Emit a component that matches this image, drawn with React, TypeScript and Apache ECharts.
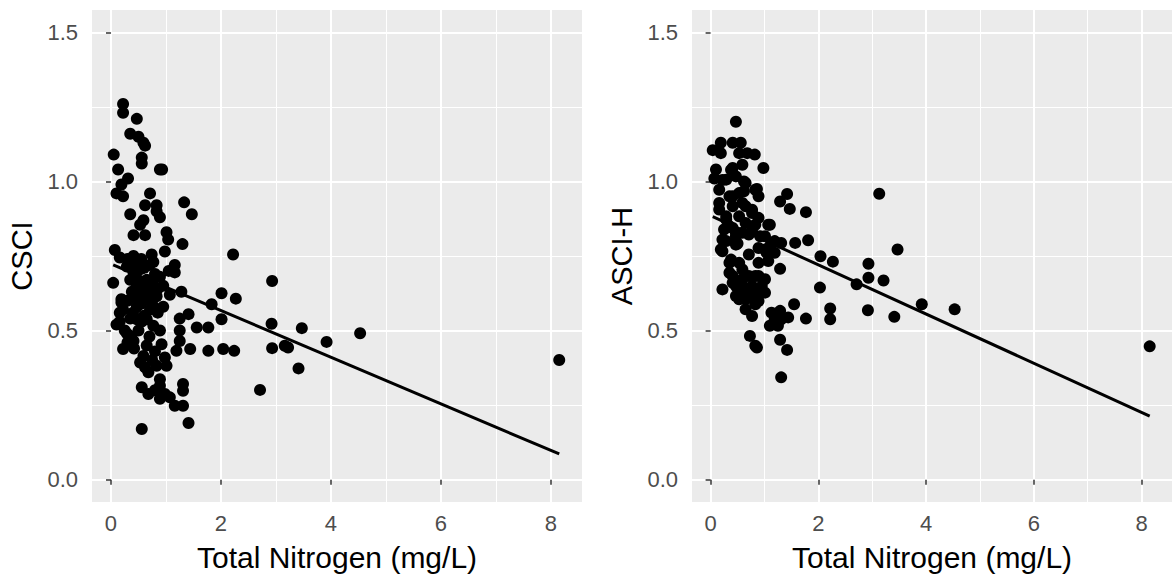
import React, { useEffect, useRef } from "react";
import * as echarts from "echarts";

// ---- data ----
const csciPoints: [number, number][] = [
  [0.22,1.26],[0.22,1.23],[0.47,1.21],[0.35,1.16],[0.50,1.15],[0.59,1.13],[0.62,1.12],[0.56,1.08],[0.56,1.06],[0.05,1.09],
  [0.13,1.04],[0.89,1.04],[0.93,1.04],[0.31,1.01],[0.19,0.99],[0.10,0.96],[0.22,0.95],[0.71,0.96],[0.62,0.92],[0.83,0.92],
  [0.83,0.90],[0.89,0.88],[0.35,0.89],[0.59,0.87],[0.53,0.855],[1.33,0.93],[1.47,0.89],[0.41,0.82],[0.62,0.82],[1.01,0.83],
  [1.04,0.805],[1.30,0.79],[0.07,0.77],[0.16,0.745],[0.41,0.75],[0.74,0.755],[0.98,0.765],[0.77,0.73],[1.16,0.72],[1.16,0.695],
  [2.22,0.755],[0.04,0.66],[0.29,0.715],[0.41,0.695],[0.53,0.705],[0.65,0.67],[0.47,0.65],[0.35,0.67],[0.59,0.64],[0.89,0.68],
  [0.95,0.65],[1.28,0.63],[1.07,0.62],[0.19,0.605],[0.22,0.57],[0.41,0.615],[0.47,0.58],[0.65,0.605],[0.71,0.57],[0.83,0.615],
  [0.16,0.53],[0.35,0.54],[0.56,0.53],[1.25,0.54],[1.41,0.555],[2.01,0.625],[2.27,0.607],[1.83,0.588],[2.01,0.538],[1.56,0.51],
  [1.77,0.51],[1.25,0.50],[0.89,0.50],[1.25,0.465],[1.44,0.438],[1.19,0.432],[1.77,0.432],[2.04,0.438],[2.24,0.432],[0.22,0.438],
  [0.19,0.594],[0.16,0.56],[0.10,0.52],[0.29,0.49],[0.41,0.465],[0.59,0.415],[0.53,0.393],[0.83,0.382],[0.98,0.41],[1.01,0.382],
  [0.62,0.377],[0.89,0.337],[0.56,0.31],[0.68,0.287],[0.89,0.315],[0.98,0.287],[0.89,0.271],[1.07,0.276],[1.16,0.248],[1.31,0.248],
  [1.31,0.321],[1.31,0.298],[1.41,0.19],[0.56,0.17],[0.71,0.605],[0.65,0.538],[0.77,0.516],[0.47,0.538],[0.35,0.482],[0.92,0.454],
  [0.30,0.74],[0.45,0.73],[0.55,0.74],[0.60,0.71],[0.70,0.72],[0.45,0.68],[0.55,0.66],[0.75,0.66],[0.80,0.69],[0.38,0.63],
  [0.50,0.62],[0.62,0.63],[0.72,0.64],[0.85,0.64],[0.30,0.60],[0.55,0.59],[0.78,0.58],[0.40,0.56],[0.60,0.55],[0.85,0.56],
  [0.25,0.50],[0.50,0.50],[0.70,0.48],[0.42,0.44],[0.65,0.45],[0.80,0.43],[0.30,0.46],[0.75,0.40],[0.68,0.36],[0.80,0.30],
  [1.05,0.70],[0.95,0.58],
  [2.93,0.666],[2.92,0.523],[3.47,0.508],[4.53,0.491],[3.92,0.462],[2.93,0.441],[3.16,0.449],[3.22,0.443],[3.41,0.373],[2.71,0.301],
  [8.15,0.401],
];

const asciPoints: [number, number][] = [
  [0.47,1.20],[0.19,1.13],[0.04,1.105],[0.19,1.095],[0.41,1.13],[0.56,1.13],[0.53,1.095],[0.68,1.095],[0.82,1.09],[0.59,1.056],
  [0.41,1.045],[0.98,1.045],[0.10,1.04],[0.07,1.01],[0.22,1.005],[0.62,1.00],[0.47,1.017],[0.16,0.972],[0.86,0.975],[0.89,0.95],
  [0.41,0.95],[0.62,0.967],[0.16,0.928],[0.41,0.917],[0.59,0.928],[0.77,0.905],[1.42,0.958],[1.29,0.933],[1.47,0.908],[1.77,0.897],
  [1.10,0.855],[0.29,0.883],[0.53,0.883],[0.65,0.861],[0.83,0.855],[0.35,0.85],[0.47,0.828],[0.71,0.822],[0.92,0.816],[1.19,0.80],
  [1.31,0.794],[1.57,0.794],[1.81,0.803],[0.50,0.792],[0.29,0.80],[0.22,0.766],[1.10,0.783],[1.04,0.761],[2.04,0.749],[2.27,0.731],
  [1.29,0.707],[0.71,0.755],[0.35,0.727],[0.59,0.705],[0.89,0.727],[0.83,0.683],[0.22,0.638],[0.47,0.649],[0.65,0.632],[0.92,0.638],
  [0.77,0.649],[2.03,0.644],[0.38,1.039],[0.29,1.006],[0.65,0.995],[0.83,0.972],[0.35,0.95],[0.53,0.961],[0.16,0.906],[0.65,0.917],
  [0.77,0.894],[0.29,0.872],[0.89,0.878],[1.07,0.855],[0.25,0.839],[0.41,0.844],[0.59,0.828],[0.77,0.839],[0.22,0.805],[0.47,0.816],
  [1.01,0.816],[0.19,0.772],[0.47,0.788],[0.89,0.777],[1.01,0.772],[1.19,0.761],[0.38,0.738],[0.53,0.727],[1.07,0.733],[0.35,0.694],
  [0.71,0.683],[0.89,0.683],[1.01,0.672],[0.41,0.660],[0.59,0.649],[0.95,0.649],[0.47,0.616],[0.65,0.605],[0.83,0.616],[1.01,0.627],
  [1.55,0.588],[0.41,0.683],[0.59,0.672],[0.53,0.638],[0.71,0.627],[0.53,0.605],[0.89,0.599],[0.83,0.588],[0.65,0.571],[0.77,0.549],
  [1.13,0.560],[1.29,0.566],[1.44,0.544],[1.19,0.538],[1.31,0.538],[1.10,0.516],[1.25,0.516],[1.77,0.540],[2.22,0.574],[2.22,0.538],
  [0.73,0.482],[0.83,0.449],[0.86,0.443],[1.29,0.469],[1.42,0.435],[1.31,0.343],
  [3.13,0.959],[3.47,0.772],[2.93,0.724],[2.93,0.677],[3.21,0.668],[2.71,0.655],[3.92,0.588],[4.53,0.571],[2.92,0.568],[3.41,0.546],
  [8.15,0.447],
];

// fitted regression lines (endpoints)
const csciFit: [number, number][] = [[0.04, 0.720], [8.15, 0.086]];
const asciFit: [number, number][] = [[0.04, 0.882], [8.15, 0.213]];

const xTicks = [0, 2, 4, 6, 8];
const yTicks = [0, 0.5, 1.0, 1.5];
const xMinor = [1, 3, 5, 7];
const yMinor = [0.25, 0.75, 1.25];
const xRange: [number, number] = [-0.345, 8.564];
const yRange: [number, number] = [-0.075, 1.575];
const yTitles = ["CSCI", "ASCI-H"];
const xTitle = "Total Nitrogen (mg/L)";

const FONT = "Liberation Sans, Arial, Helvetica, sans-serif";

export default function App() {
  const ref = useRef<HTMLDivElement>(null);
  useEffect(() => {
    if (!ref.current) return;
    const chart = echarts.init(ref.current, undefined, { renderer: "svg" });
    const lefts = [92, 692];
    const grids = lefts.map((l) => ({
      left: l,
      top: 10,
      width: 490,
      height: 493,
      show: true,
      backgroundColor: "#EBEBEB",
      borderWidth: 0,
    }));
    const xAxes = lefts.map((_, i) => ({
      type: "value",
      gridIndex: i,
      min: xRange[0],
      max: xRange[1],
      splitNumber: 5,
      name: xTitle,
      nameLocation: "middle",
      nameGap: 40,
      nameTextStyle: { color: "#000", fontSize: 30, fontFamily: FONT },
      axisLine: { show: false },
      axisTick: { show: true, length: 5, customValues: xTicks, lineStyle: { color: "#333", width: 1.5 } },
      axisLabel: {
        customValues: xTicks,
        color: "#4D4D4D",
        fontSize: 22,
        fontFamily: FONT,
        margin: 10,
        formatter: (v: number) => String(v),
      },
      splitLine: { show: true, lineStyle: { color: "#FFFFFF", width: 2 } },
      minorSplitLine: { show: false },
    }));
    const yAxes = lefts.map((_, i) => ({
      type: "value",
      gridIndex: i,
      min: yRange[0],
      max: yRange[1],
      splitNumber: 3,
      name: yTitles[i],
      nameLocation: "middle",
      nameGap: 56,
      nameTextStyle: { color: "#000", fontSize: 29, fontFamily: FONT },
      axisLine: { show: false },
      axisTick: { show: true, length: 5, customValues: yTicks, lineStyle: { color: "#333", width: 1.5 } },
      axisLabel: {
        customValues: yTicks,
        color: "#4D4D4D",
        fontSize: 22,
        fontFamily: FONT,
        margin: 14,
        formatter: (v: number) => v.toFixed(1),
      },
      splitLine: { show: true, lineStyle: { color: "#FFFFFF", width: 2 } },
      minorSplitLine: { show: false },
    }));
    const minorLines = [
      ...xMinor.map((v) => ({ xAxis: v })),
      ...yMinor.map((v) => ({ yAxis: v })),
    ];
    const series: any[] = [];
    [csciPoints, asciPoints].forEach((pts, i) => {
      series.push({
        type: "line",
        xAxisIndex: i,
        yAxisIndex: i,
        data: [],
        silent: true,
        z: 1,
        markLine: {
          z: 1,
          silent: true,
          symbol: ["none", "none"],
          label: { show: false },
          lineStyle: { color: "#FFFFFF", width: 1, type: "solid" },
          emphasis: { disabled: true },
          data: minorLines,
        },
      });
      series.push({
        type: "scatter",
        xAxisIndex: i,
        yAxisIndex: i,
        data: pts,
        symbol: "circle",
        symbolSize: 12,
        itemStyle: { color: "#000000", opacity: 1 },
        z: 10,
        silent: true,
      });
      series.push({
        type: "line",
        xAxisIndex: i,
        yAxisIndex: i,
        data: i === 0 ? csciFit : asciFit,
        showSymbol: false,
        symbol: "none",
        lineStyle: { color: "#000000", width: 3 },
        z: 11,
        silent: true,
      });
    });
    chart.setOption({
      animation: false,
      grid: grids,
      xAxis: xAxes,
      yAxis: yAxes,
      series,
    });
    return () => chart.dispose();
  }, []);
  return (
    <div
      ref={ref}
      style={{ position: "fixed", left: 0, top: 0, width: 1172, height: 577, background: "#fff" }}
    />
  );
}
